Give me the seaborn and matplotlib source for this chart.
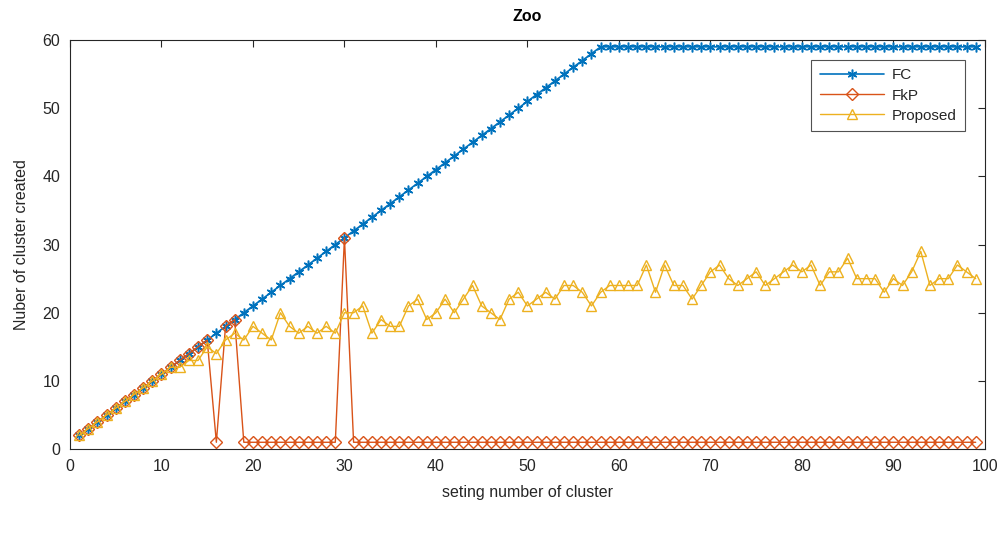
import numpy as np
import pandas as pd
import seaborn as sns
import matplotlib
matplotlib.use("Agg")
import matplotlib.pyplot as plt

# setting number of cluster (x axis)
setting = list(range(1, 100))

# FC: grows with the setting, capped at 59
fc = [2, 3, 4, 5, 6, 7, 8, 9, 10, 11, 12, 13, 14, 15, 16, 17, 18, 19, 20, 21,
      22, 23, 24, 25, 26, 27, 28, 29, 30, 31, 32, 33, 34, 35, 36, 37, 38, 39, 40, 41,
      42, 43, 44, 45, 46, 47, 48, 49, 50, 51, 52, 53, 54, 55, 56, 57, 58, 59, 59, 59,
      59, 59, 59, 59, 59, 59, 59, 59, 59, 59, 59, 59, 59, 59, 59, 59, 59, 59, 59, 59,
      59, 59, 59, 59, 59, 59, 59, 59, 59, 59, 59, 59, 59, 59, 59, 59, 59, 59, 59]

# FkP
fkp = [2, 3, 4, 5, 6, 7, 8, 9, 10, 11, 12, 13, 14, 15, 16, 1, 18, 19, 1, 1,
       1, 1, 1, 1, 1, 1, 1, 1, 1, 31, 1, 1, 1, 1, 1, 1, 1, 1, 1, 1,
       1, 1, 1, 1, 1, 1, 1, 1, 1, 1, 1, 1, 1, 1, 1, 1, 1, 1, 1, 1,
       1, 1, 1, 1, 1, 1, 1, 1, 1, 1, 1, 1, 1, 1, 1, 1, 1, 1, 1, 1,
       1, 1, 1, 1, 1, 1, 1, 1, 1, 1, 1, 1, 1, 1, 1, 1, 1, 1, 1]

# Proposed
proposed = [2, 3, 4, 5, 6, 7, 8, 9, 10, 11, 12, 12, 13, 13, 15, 14, 16, 17, 16, 18,
            17, 16, 20, 18, 17, 18, 17, 18, 17, 20, 20, 21, 17, 19, 18, 18, 21, 22, 19, 20,
            22, 20, 22, 24, 21, 20, 19, 22, 23, 21, 22, 23, 22, 24, 24, 23, 21, 23, 24, 24,
            24, 24, 27, 23, 27, 24, 24, 22, 24, 26, 27, 25, 24, 25, 26, 24, 25, 26, 27, 26,
            27, 24, 26, 26, 28, 25, 25, 25, 23, 25, 24, 26, 29, 24, 25, 25, 27, 26, 25]

df = pd.DataFrame({"setting": setting, "FC": fc, "FkP": fkp, "Proposed": proposed})

sns.set_style("white")
plt.rcParams["font.family"] = ["Liberation Sans", "DejaVu Sans"]

fig, ax = plt.subplots(figsize=(10.07, 5.34), dpi=100)
fig.subplots_adjust(left=0.0695, right=0.978, bottom=0.159, top=0.925)

sns.lineplot(data=df, x="setting", y="FC", ax=ax, color="#0072BD", lw=1.2,
             marker=(6, 2, 0), markersize=7, markeredgewidth=1.1,
             markeredgecolor="#0072BD", label="FC")
sns.lineplot(data=df, x="setting", y="FkP", ax=ax, color="#D95319", lw=1.0,
             marker="D", markersize=6, markerfacecolor="none", markeredgewidth=1.0,
             markeredgecolor="#D95319", label="FkP")
sns.lineplot(data=df, x="setting", y="Proposed", ax=ax, color="#EDB120", lw=1.0,
             marker="^", markersize=7, markerfacecolor="none", markeredgewidth=1.0,
             markeredgecolor="#EDB120", label="Proposed")

ax.set_xlim(0, 100)
ax.set_ylim(0, 60)
ax.set_xticks(range(0, 101, 10))
ax.set_yticks(range(0, 61, 10))
ax.tick_params(direction="in", length=5, width=0.8, top=True, right=True,
               labelsize=11.5, colors="#262626", pad=7)
for s in ax.spines.values():
    s.set_color("#262626")
    s.set_linewidth(0.8)

ax.set_title("Zoo", fontsize=11.5, fontweight="bold", color="#000000", pad=14)
ax.set_xlabel("seting number of cluster", fontsize=11.5, color="#262626", labelpad=8)
ax.set_ylabel("Nuber of cluster created", fontsize=11.5, color="#262626", labelpad=10)

leg = ax.legend(loc="upper right", bbox_to_anchor=(0.978, 0.951), fontsize=11,
                frameon=True, fancybox=False, handlelength=4.2, borderpad=0.55,
                labelspacing=0.4, handletextpad=0.5, borderaxespad=0)
leg.get_frame().set_edgecolor("#262626")
leg.get_frame().set_linewidth(0.8)

fig.savefig("out.png", dpi=100)
